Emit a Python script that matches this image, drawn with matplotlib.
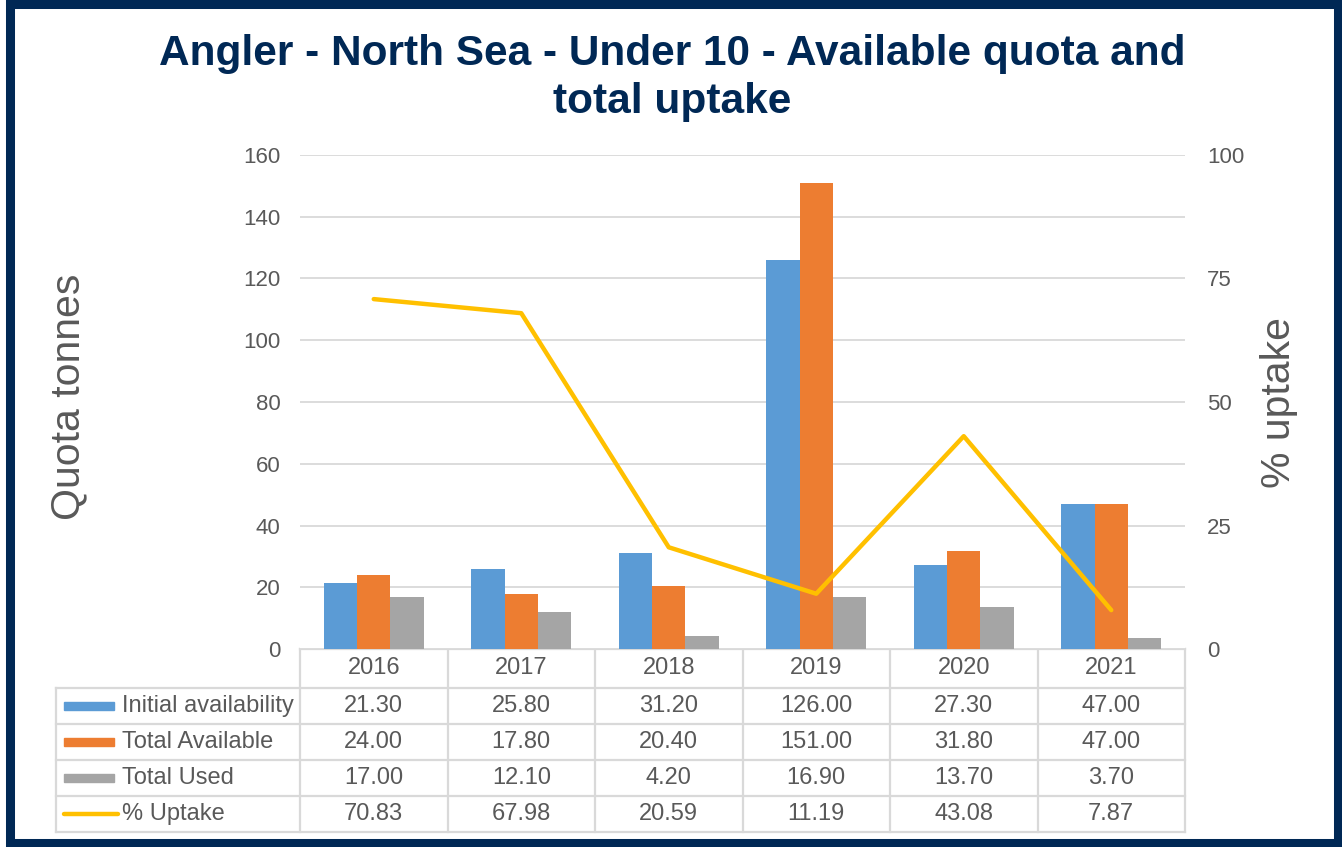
import matplotlib.pyplot as plt
from matplotlib.patches import Rectangle
import numpy as np

plt.rcParams['font.family'] = ['Liberation Sans', 'DejaVu Sans']

# data
years = ["2016", "2017", "2018", "2019", "2020", "2021"]
initial_avail = [21.30, 25.80, 31.20, 126.00, 27.30, 47.00]
total_avail = [24.00, 17.80, 20.40, 151.00, 31.80, 47.00]
total_used = [17.00, 12.10, 4.20, 16.90, 13.70, 3.70]
pct_uptake = [70.83, 67.98, 20.59, 11.19, 43.08, 7.87]

series_names = ["Initial availability", "Total Available", "Total Used", "% Uptake"]
colors = ["#5B9BD5", "#ED7D31", "#A5A5A5", "#FFC000"]
navy = "#002855"
txt = "#595959"
gridc = "#D9D9D9"

W, H = 1342, 847
fig = plt.figure(figsize=(W / 100, H / 100), dpi=100)

# plot area in pixels
px_l, px_r, px_t, px_b = 300, 1185, 155, 649
ax = fig.add_axes([px_l / W, 1 - px_b / H, (px_r - px_l) / W, (px_b - px_t) / H])
x = np.arange(len(years))
bw = 0.227
ax.bar(x - bw, initial_avail, bw, color=colors[0], zorder=2)
ax.bar(x, total_avail, bw, color=colors[1], zorder=2)
ax.bar(x + bw, total_used, bw, color=colors[2], zorder=2)
ax.set_xlim(-0.5, len(years) - 0.5)
ax.set_ylim(0, 160)
ax.set_yticks(range(0, 161, 20))
ax.grid(axis='y', color=gridc, lw=1.3)
ax.set_axisbelow(True)
ax.set_xticks([])
ax.tick_params(axis='y', length=0, pad=14, labelsize=16, labelcolor=txt)
for s in ax.spines.values():
    s.set_visible(False)

ax2 = ax.twinx()
ax2.plot(x, pct_uptake, color=colors[3], lw=3.2, solid_capstyle='round', zorder=3)
ax2.set_ylim(0, 100)
ax2.set_yticks(range(0, 101, 25))
ax2.tick_params(axis='y', length=0, pad=16, labelsize=16, labelcolor=txt)
for s in ax2.spines.values():
    s.set_visible(False)

# overlay in pixel coords for table, border and labels
ov = fig.add_axes([0, 0, 1, 1], zorder=-1)
ov.set_xlim(0, W)
ov.set_ylim(H, 0)
ov.axis('off')

colw = (px_r - px_l) / len(years)
row_y = [649, 688, 724, 760, 796, 832]
tab_left = 56
lw_t = 1.6
# horizontal lines
ov.plot([px_l, px_r], [row_y[0], row_y[0]], color=gridc, lw=lw_t)
for yy in row_y[1:]:
    ov.plot([tab_left, px_r], [yy, yy], color=gridc, lw=lw_t)
# vertical lines
ov.plot([tab_left, tab_left], [row_y[1], row_y[-1]], color=gridc, lw=lw_t)
for i in range(len(years) + 1):
    xx = px_l + i * colw
    ov.plot([xx, xx], [row_y[0], row_y[-1]], color=gridc, lw=lw_t)

rows = [initial_avail, total_avail, total_used, pct_uptake]
for i, yr in enumerate(years):
    cx = px_l + (i + 0.5) * colw
    ov.text(cx, (row_y[0] + row_y[1]) / 2, yr, ha='center', va='center', fontsize=17, color=txt)
    for r, vals in enumerate(rows):
        cy = (row_y[r + 1] + row_y[r + 2]) / 2
        ov.text(cx, cy, f"{vals[i]:.2f}", ha='center', va='center', fontsize=17, color=txt)

for r, name in enumerate(series_names):
    cy = (row_y[r + 1] + row_y[r + 2]) / 2
    if r < 3:
        ov.add_patch(Rectangle((64, cy - 4), 50, 8, color=colors[r]))
    else:
        ov.plot([64, 118], [cy, cy], color=colors[r], lw=3.2, solid_capstyle='round')
    ov.text(122, cy, name, ha='left', va='center', fontsize=17, color=txt)

# border
ov.add_patch(Rectangle((10, 4.5), 1327.5, 839, fill=False, edgecolor=navy, lw=6.5, clip_on=False))

# title, two lines placed on their baselines
ov.text(672, 65, "Angler - North Sea - Under 10 - Available quota and", ha='center', va='baseline',
        fontsize=30.5, fontweight='bold', color=navy)
ov.text(672, 113, "total uptake", ha='center', va='baseline',
        fontsize=30.5, fontweight='bold', color=navy)

ov.text(68, 397, "Quota tonnes", rotation=90, ha='center', va='center', fontsize=29.5, color=txt)
ov.text(1279, 403, "% uptake", rotation=90, ha='center', va='center', fontsize=29.5, color=txt)

fig.savefig("out.png", dpi=100)
